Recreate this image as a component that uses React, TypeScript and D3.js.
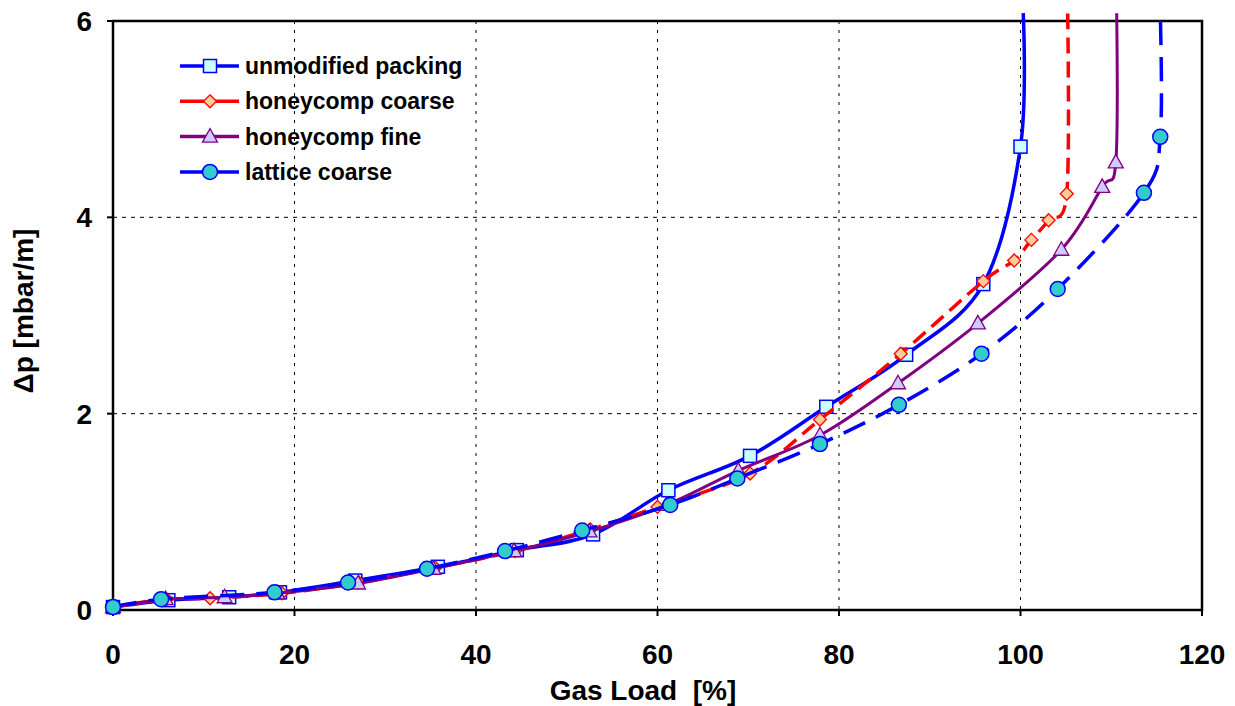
import React from 'react';
import * as d3 from 'd3';

// gas load [%] and pressure drop [mbar/m]
const unmodifiedX = [0, 6.1, 12.8, 18.4, 26.7, 35.8, 44.5, 52.9, 61.2, 70.2, 78.6, 87.4, 95.9, 100.0];
const unmodifiedY = [0.03, 0.1, 0.13, 0.18, 0.3, 0.44, 0.61, 0.77, 1.22, 1.57, 2.07, 2.6, 3.32, 4.72];
const honeyCoarseX = [0, 5.9, 10.7, 18.6, 27.1, 35.5, 44.3, 52.6, 60.0, 70.2, 77.9, 86.8, 95.9, 99.3, 101.2, 103.1, 105.1];
const honeyCoarseY = [0.03, 0.11, 0.12, 0.17, 0.28, 0.43, 0.6, 0.82, 1.05, 1.39, 1.94, 2.61, 3.35, 3.56, 3.77, 3.97, 4.24];
const honeyFineX = [0, 5.8, 12.3, 18.1, 27.0, 35.3, 44.2, 52.5, 61.0, 68.9, 77.9, 86.5, 95.3, 104.5, 109.0, 110.5];
const honeyFineY = [0.03, 0.11, 0.13, 0.17, 0.27, 0.42, 0.6, 0.8, 1.07, 1.42, 1.78, 2.31, 2.92, 3.67, 4.31, 4.56];
const latticeX = [0, 5.3, 17.8, 25.9, 34.6, 43.2, 51.7, 61.4, 68.8, 77.9, 86.6, 95.7, 104.1, 113.6, 115.4];
const latticeY = [0.03, 0.11, 0.18, 0.28, 0.42, 0.6, 0.81, 1.07, 1.34, 1.69, 2.09, 2.61, 3.27, 4.25, 4.82];
// flooding: curves run vertically off the top at these loads
const floodX = [100.3, 105.2, 110.6, 115.4];
const floodY = 6.08;

const seriesNames = ['unmodified packing', 'honeycomp coarse', 'honeycomp fine', 'lattice coarse'];
const xTicks = [0, 20, 40, 60, 80, 100, 120];
const yTicks = [0, 2, 4, 6];

const W = 1235, H = 706;
const left = 113, right = 1202, top = 21, bottom = 610;

const styles = [
  { color: '#0000FF', width: 3.5, dash: null, marker: 'square', fill: '#CCFFFF' },
  { color: '#FF0000', width: 3.5, dash: '16,8', marker: 'diamond', fill: '#FFCC99' },
  { color: '#800080', width: 3, dash: null, marker: 'triangle', fill: '#CCCCFF' },
  { color: '#0000FF', width: 3.5, dash: '24,12', marker: 'circle', fill: '#33CCCC' },
];

const Marker = ({ type, x, y, color, fill }: any) => {
  if (type === 'square') return <rect x={x - 6.5} y={y - 6.5} width={13} height={13} fill={fill} stroke={color} strokeWidth={1.5} />;
  if (type === 'diamond') return <path d={`M${x},${y - 6.5}L${x + 6.5},${y}L${x},${y + 6.5}L${x - 6.5},${y}Z`} fill={fill} stroke={color} strokeWidth={1.3} />;
  if (type === 'triangle') return <path d={`M${x},${y - 8}L${x + 7.5},${y + 5.5}L${x - 7.5},${y + 5.5}Z`} fill={fill} stroke={color} strokeWidth={1.3} />;
  return <circle cx={x} cy={y} r={7.5} fill={fill} stroke={color} strokeWidth={1.5} />;
};

export default function App() {
  const x = d3.scaleLinear().domain([0, 120]).range([left, right]);
  const y = d3.scaleLinear().domain([0, 6]).range([bottom, top]);

  const allX = [unmodifiedX, honeyCoarseX, honeyFineX, latticeX];
  const allY = [unmodifiedY, honeyCoarseY, honeyFineY, latticeY];
  const series = allX.map((xs, i) => xs.map((v, j) => [v, allY[i][j]] as [number, number]));

  const line = d3.line<[number, number]>()
    .x(d => x(d[0]))
    .y(d => y(d[1]))
    .curve(d3.curveCardinal.tension(0));

  const font = 'Liberation Sans, Arial, sans-serif';

  return (
    <div style={{ position: 'absolute', left: 0, top: 0 }}>
      <svg width={W} height={H} style={{ display: 'block', background: '#fff' }}>
        {/* grid */}
        {xTicks.slice(1, -1).map(t => (
          <line key={'gx' + t} x1={x(t)} x2={x(t)} y1={top} y2={bottom} stroke="#000" strokeWidth={1} strokeDasharray="3,6" />
        ))}
        {yTicks.slice(1, -1).map(t => (
          <line key={'gy' + t} x1={left} x2={right} y1={y(t)} y2={y(t)} stroke="#000" strokeWidth={1} strokeDasharray="4,5" />
        ))}

        {/* frame */}
        <rect x={left} y={top} width={right - left} height={bottom - top} fill="none" stroke="#000" strokeWidth={2.5} />

        {/* ticks */}
        {xTicks.map(t => (
          <g key={'tx' + t}>
            <line x1={x(t)} x2={x(t)} y1={bottom} y2={bottom + 6} stroke="#000" strokeWidth={2} />
            <text x={x(t)} y={664} textAnchor="middle" fontFamily={font} fontWeight="bold" fontSize={28}>{t}</text>
          </g>
        ))}
        {yTicks.map(t => (
          <g key={'ty' + t}>
            <line x1={left - 6} x2={left} y1={y(t)} y2={y(t)} stroke="#000" strokeWidth={2} />
            <text x={92} y={y(t) + 10} textAnchor="end" fontFamily={font} fontWeight="bold" fontSize={28}>{t}</text>
          </g>
        ))}

        {/* series */}
        {series.map((pts, i) => {
          const s = styles[i];
          const path = [...pts, [floodX[i], floodY] as [number, number]];
          return (
            <g key={seriesNames[i]}>
              <path d={line(path) || ''} fill="none" stroke={s.color} strokeWidth={s.width}
                strokeDasharray={s.dash || undefined} strokeLinejoin="round" />
              {pts.map((p, j) => (
                <Marker key={j} type={s.marker} x={x(p[0])} y={y(p[1])} color={s.color} fill={s.fill} />
              ))}
            </g>
          );
        })}

        {/* legend */}
        {seriesNames.map((name, i) => {
          const s = styles[i];
          const ly = 66 + i * 35.3;
          return (
            <g key={'lg' + i}>
              <line x1={180} x2={239} y1={ly} y2={ly} stroke={s.color} strokeWidth={3.5} />
              <Marker type={s.marker} x={210} y={ly} color={s.color} fill={s.fill} />
              <text x={245} y={ly + 8} fontFamily={font} fontWeight="bold" fontSize={23}>{name}</text>
            </g>
          );
        })}

        {/* axis titles */}
        <text x={643} y={700} textAnchor="middle" fontFamily={font} fontWeight="bold" fontSize={28} style={{ whiteSpace: 'pre' }}>{'Gas Load  [%]'}</text>
        <text transform="translate(33,311) rotate(-90)" textAnchor="middle" fontFamily={font} fontWeight="bold" fontSize={28}>Δp [mbar/m]</text>
      </svg>
    </div>
  );
}
